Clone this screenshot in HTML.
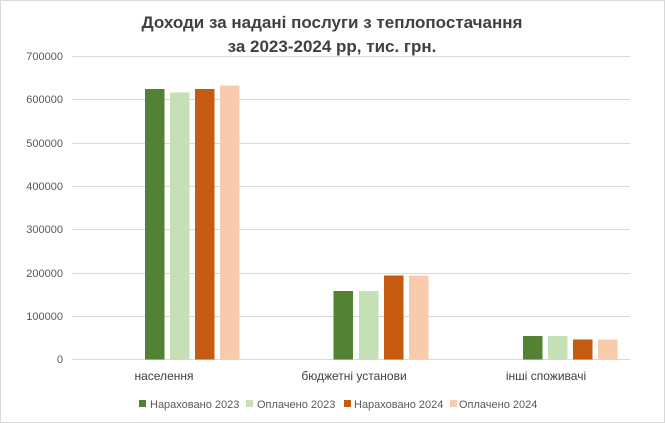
<!DOCTYPE html><html><head><style>body{margin:0;background:#fff}svg{display:block}text{font-family:"Liberation Sans",sans-serif}</style></head><body>
<svg width="665" height="423" xmlns="http://www.w3.org/2000/svg">
<rect x="0.5" y="0.5" width="664" height="422" fill="#fff" stroke="#d9d9d9"/>
<text x="332" y="28" text-anchor="middle" font-size="17" font-weight="bold" fill="#404040">Доходи за надані послуги з теплопостачання</text>
<text x="332" y="52" text-anchor="middle" font-size="17" font-weight="bold" fill="#404040">за 2023-2024 рр, тис. грн.</text>
<g stroke="#d9d9d9" stroke-width="1">
<line x1="72" x2="630" y1="56.5" y2="56.5"/><line x1="72" x2="630" y1="99.5" y2="99.5"/><line x1="72" x2="630" y1="143.5" y2="143.5"/><line x1="72" x2="630" y1="186.5" y2="186.5"/><line x1="72" x2="630" y1="229.5" y2="229.5"/><line x1="72" x2="630" y1="273.5" y2="273.5"/><line x1="72" x2="630" y1="316.5" y2="316.5"/><line x1="72" x2="630" y1="359.5" y2="359.5"/>
</g>
<g font-size="11" fill="#595959" text-anchor="end">
<text x="63" y="60">700000</text><text x="63" y="103">600000</text><text x="63" y="147">500000</text><text x="63" y="190">400000</text><text x="63" y="233">300000</text><text x="63" y="277">200000</text><text x="63" y="320">100000</text><text x="63" y="363">0</text>
</g>
<rect x="145" y="89" width="19.5" height="270.5" fill="#548235"/>
<rect x="170" y="92.5" width="19.5" height="267" fill="#c5e0b4"/>
<rect x="195" y="89" width="19.5" height="270.5" fill="#c55a11"/>
<rect x="220" y="85.5" width="19.5" height="274" fill="#f8cbad"/>
<rect x="333.5" y="291" width="19.5" height="68.5" fill="#548235"/>
<rect x="359" y="291" width="19.5" height="68.5" fill="#c5e0b4"/>
<rect x="384" y="275.5" width="19.5" height="84" fill="#c55a11"/>
<rect x="409" y="275.5" width="19.5" height="84" fill="#f8cbad"/>
<rect x="523" y="336" width="19.5" height="23.5" fill="#548235"/>
<rect x="548" y="336" width="19.5" height="23.5" fill="#c5e0b4"/>
<rect x="573" y="339.5" width="19.5" height="20" fill="#c55a11"/>
<rect x="598" y="339.5" width="19.5" height="20" fill="#f8cbad"/>
<g font-size="12" fill="#404040" text-anchor="middle">
<text x="164" y="380">населення</text><text x="354" y="380">бюджетні установи</text><text x="546" y="380">інші споживачі</text>
</g>
<g font-size="11" fill="#595959">
<rect x="139" y="400" width="7" height="7" fill="#548235"/><text x="150" y="408">Нараховано 2023</text>
<rect x="246" y="400" width="7" height="7" fill="#c5e0b4"/><text x="257" y="408">Оплачено 2023</text>
<rect x="344" y="400" width="7" height="7" fill="#c55a11"/><text x="354" y="408">Нараховано 2024</text>
<rect x="450" y="400" width="7" height="7" fill="#f8cbad"/><text x="459" y="408">Оплачено 2024</text>
</g>
</svg></body></html>
